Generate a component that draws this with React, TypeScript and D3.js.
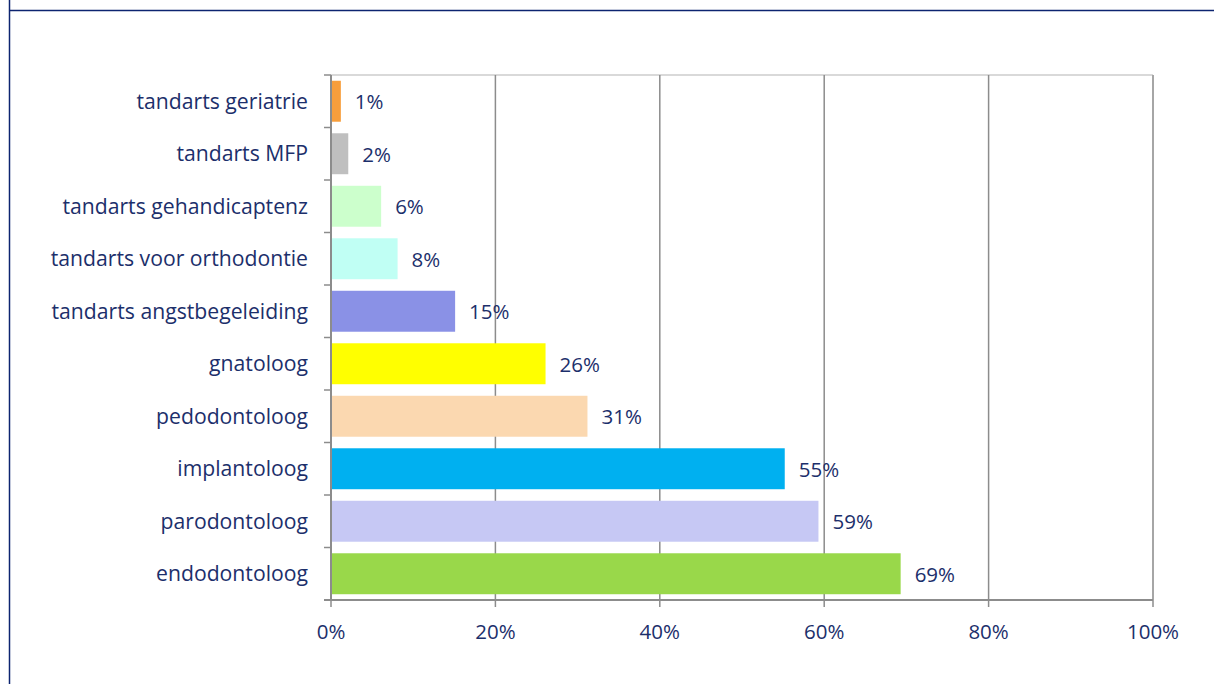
import React from "react";
import * as d3 from "d3";

const categories = [
  "tandarts geriatrie",
  "tandarts MFP",
  "tandarts gehandicaptenz",
  "tandarts voor orthodontie",
  "tandarts angstbegeleiding",
  "gnatoloog",
  "pedodontoloog",
  "implantoloog",
  "parodontoloog",
  "endodontoloog",
];
const values = [1.2, 2.1, 6.1, 8.1, 15.1, 26.1, 31.2, 55.2, 59.3, 69.3];
const valueLabels = ["1%", "2%", "6%", "8%", "15%", "26%", "31%", "55%", "59%", "69%"];
const colors = [
  "#F79E3C",
  "#BFBFBF",
  "#CCFFCC",
  "#C0FFF4",
  "#8A91E6",
  "#FFFF00",
  "#FBD8B0",
  "#00B0F0",
  "#C6C8F4",
  "#99D84A",
];
const xTicks = [0, 20, 40, 60, 80, 100];

const W = 1214;
const H = 684;
const plot = { left: 331, right: 1153, top: 75, bottom: 600 };
const textColor = "#1C2F6B";
const font = "'Open Sans', Lato, sans-serif";

export default function App() {
  const x = d3.scaleLinear().domain([0, 100]).range([plot.left, plot.right]);
  const y = d3
    .scaleBand<string>()
    .domain(categories)
    .range([plot.top, plot.bottom])
    .paddingInner(0.22)
    .paddingOuter(0.11);
  const bandEdges = d3.range(categories.length + 1).map(
    (i) => plot.top + (i * (plot.bottom - plot.top)) / categories.length
  );

  return (
    <svg
      width={W}
      height={H}
      style={{ position: "absolute", left: 0, top: 0, background: "#fff" }}
      fontFamily={font}
    >
      {/* slide frame */}
      <line x1={9.5} y1={0} x2={9.5} y2={H} stroke="#0D2470" strokeWidth={1.5} />
      <line x1={9} y1={10.5} x2={W} y2={10.5} stroke="#0D2470" strokeWidth={1.5} />

      {/* plot border top */}
      <line x1={plot.left} y1={plot.top} x2={plot.right} y2={plot.top} stroke="#B3B3B3" strokeWidth={1} />
      {/* gridlines */}
      {xTicks.slice(1).map((t) => (
        <line
          key={"g" + t}
          x1={x(t)}
          x2={x(t)}
          y1={plot.top}
          y2={plot.bottom}
          stroke={t === 100 ? "#A6A6A6" : "#8C8C8C"}
          strokeWidth={t === 100 ? 2 : 1.5}
        />
      ))}

      {/* bars */}
      {categories.map((c, i) => (
        <rect
          key={c}
          x={x(0) + 1}
          y={y(c)!}
          width={x(values[i]) - x(0) - 1}
          height={y.bandwidth()}
          fill={colors[i]}
        />
      ))}

      {/* y axis */}
      <line x1={plot.left} x2={plot.left} y1={plot.top} y2={plot.bottom} stroke="#8C8C8C" strokeWidth={2} />
      {bandEdges.map((e, i) => (
        <line key={"yt" + i} x1={plot.left - 7} x2={plot.left} y1={e} y2={e} stroke="#8C8C8C" strokeWidth={1.5} />
      ))}
      {/* x axis */}
      <line x1={plot.left - 7} x2={plot.right} y1={plot.bottom} y2={plot.bottom} stroke="#8C8C8C" strokeWidth={2} />
      {xTicks.map((t) => (
        <line key={"xt" + t} x1={x(t)} x2={x(t)} y1={plot.bottom} y2={plot.bottom + 7} stroke="#8C8C8C" strokeWidth={1.5} />
      ))}
      {xTicks.map((t) => (
        <text
          key={"xl" + t}
          x={x(t)}
          y={plot.bottom + 39}
          textAnchor="middle"
          fontSize={20.5}
          fill={textColor}
        >
          {t}%
        </text>
      ))}

      {/* category labels */}
      {categories.map((c) => (
        <text
          key={"cl" + c}
          x={plot.left - 23}
          y={y(c)! + y.bandwidth() / 2}
          dy="0.35em"
          textAnchor="end"
          fontSize={21.2}
          fill={textColor}
        >
          {c}
        </text>
      ))}

      {/* value labels */}
      {categories.map((c, i) => (
        <text
          key={"vl" + c}
          x={x(values[i]) + 14}
          y={y(c)! + y.bandwidth() / 2}
          dy="0.38em"
          fontSize={20.5}
          fill={textColor}
        >
          {valueLabels[i]}
        </text>
      ))}
    </svg>
  );
}
